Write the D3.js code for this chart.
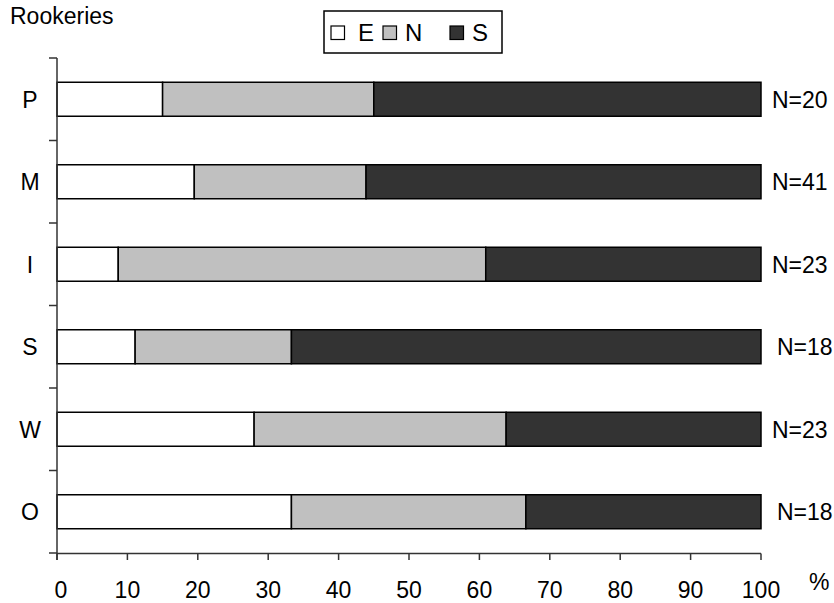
<!DOCTYPE html>
<html><head><meta charset="utf-8">
<script src="https://cdn.jsdelivr.net/npm/d3@7"></script>
<style>body{margin:0;background:#fff}svg{display:block}text{font-family:"Liberation Sans",Arial,sans-serif;fill:#000}</style>
</head><body><svg id="c" width="834" height="603"></svg>
<script>
const categories = ["P","M","I","S","W","O"];
const seriesNames = ["E","N","S"];
const valuesE = [15, 19.5, 8.7, 11.1, 28, 33.3];
const valuesN = [30, 24.4, 52.2, 22.2, 35.8, 33.3];
const valuesS = [55, 56.1, 39.1, 66.7, 36.2, 33.4];
const sampleN = ["N=20","N=41","N=23","N=18","N=23","N=18"];
const xTicks = [0,10,20,30,40,50,60,70,80,90,100];
const colors = ["#ffffff","#c0c0c0","#333333"];

const svg = d3.select("#c");
const x = d3.scaleLinear().domain([0,100]).range([57, 761]);
const y = d3.scaleBand().domain(categories).range([58, 553]).paddingInner(0.588).paddingOuter(0.294);

const rows = categories.map((c,i)=>({cat:c, E:valuesE[i], N:valuesN[i], S:valuesS[i]}));
const stack = d3.stack().keys(seriesNames)(rows);

const g = svg.append("g");
stack.forEach((layer,k)=>{
  g.selectAll(null).data(layer).enter().append("rect")
    .attr("x", d=>x(d[0])).attr("width", d=>x(d[1])-x(d[0]))
    .attr("y", d=>y(d.data.cat)).attr("height", y.bandwidth())
    .attr("fill", colors[k]).attr("stroke","#000").attr("stroke-width",1.5);
});

const step = y.step();
const bounds = d3.range(categories.length+1).map(i=>58 + i*step);
svg.append("line").attr("x1",57).attr("x2",57).attr("y1",58).attr("y2",560)
  .attr("stroke","#333").attr("stroke-width",1.5);
svg.selectAll(null).data(bounds).enter().append("line")
  .attr("x1",49).attr("x2",57).attr("y1",d=>d).attr("y2",d=>d)
  .attr("stroke","#333").attr("stroke-width",1.5);
svg.selectAll(null).data(categories).enter().append("text")
  .attr("x",30).attr("y",d=>y(d)+y.bandwidth()/2).attr("dy","0.36em")
  .attr("text-anchor","middle").attr("font-size",23).text(d=>d);

svg.append("line").attr("x1",57).attr("x2",761).attr("y1",553.5).attr("y2",553.5)
  .attr("stroke","#333").attr("stroke-width",1.5);
svg.selectAll(null).data(xTicks).enter().append("line")
  .attr("x1",d=>x(d)).attr("x2",d=>x(d)).attr("y1",553.5).attr("y2",560)
  .attr("stroke","#333").attr("stroke-width",1.5);
svg.selectAll(null).data(xTicks).enter().append("text")
  .attr("x",d=>x(d)+ (d===0?4:0)).attr("y",598).attr("text-anchor","middle")
  .attr("font-size",23).text(d=>d);
svg.append("text").attr("x",809).attr("y",590).attr("font-size",23).text("%");

svg.selectAll(null).data(categories).enter().append("text")
  .attr("x",(d,i)=> sampleN[i]==="N=18" ? 777 : 772)
  .attr("y",d=>y(d)+y.bandwidth()/2).attr("dy","0.36em")
  .attr("font-size",23).text((d,i)=>sampleN[i]);

svg.append("text").attr("x",10).attr("y",24).attr("font-size",23).text("Rookeries");

const lg = svg.append("g");
lg.append("rect").attr("x",324).attr("y",11).attr("width",178).attr("height",42)
  .attr("fill","#fff").attr("stroke","#000").attr("stroke-width",1.5);
const lx = [331, 383, 450];
const tx = [358, 405, 472];
seriesNames.forEach((s,i)=>{
  lg.append("rect").attr("x",lx[i]).attr("y",26).attr("width",13.5).attr("height",13.5)
    .attr("fill",colors[i]).attr("stroke","#000").attr("stroke-width",1.2);
  lg.append("text").attr("x",tx[i]).attr("y",41).attr("font-size",24).text(s);
});
</script></body></html>
